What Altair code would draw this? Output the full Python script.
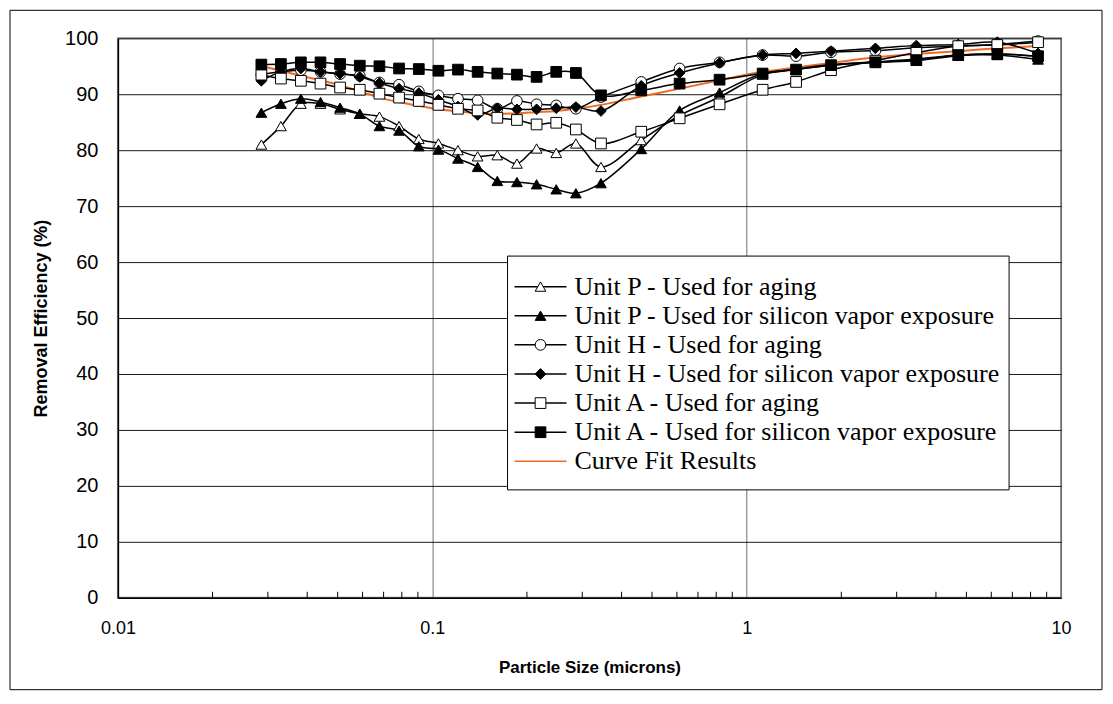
import altair as alt
import pandas as pd

# ---------------- data ----------------
sizes = [0.0286, 0.0330, 0.0382, 0.0441, 0.0509, 0.0588, 0.0679, 0.0784, 0.0906,
         0.1046, 0.1207, 0.1394, 0.1610, 0.1859, 0.2147, 0.2479, 0.2863, 0.344,
         0.462, 0.612, 0.820, 1.124, 1.436, 1.855, 2.568, 3.465, 4.71, 6.27, 8.45]

p_aging = [81.0, 84.3, 88.3, 88.3, 87.3, 86.5, 86.0, 84.3, 82.0, 81.2, 80.0, 78.9, 79.1,
           77.6, 80.3, 79.5, 81.2, 77.0, 81.8, 86.2, 89.5, 93.5, 94.5, 95.3, 95.8, 96.3,
           97.0, 97.2, 96.8]
p_silicon = [86.7, 88.3, 89.2, 88.6, 87.6, 86.5, 84.3, 83.5, 80.7, 80.1, 78.5, 77.0, 74.5,
             74.3, 73.9, 73.0, 72.3, 74.1, 80.2, 87.1, 90.3, 93.7, 94.4, 95.2, 95.7, 96.0,
             96.9, 97.0, 96.2]
h_aging = [93.5, 94.0, 94.3, 94.0, 93.6, 93.3, 92.1, 91.7, 90.5, 89.8, 89.2, 88.9, 87.4,
           88.8, 88.2, 88.0, 87.4, 89.5, 92.2, 94.6, 95.7, 97.0, 96.8, 97.5, 97.8, 98.3,
           98.6, 98.9, 99.5]
h_silicon = [92.4, 94.0, 94.6, 94.0, 93.7, 93.1, 92.0, 91.0, 90.2, 89.0, 87.8, 86.3, 87.5,
             87.3, 87.3, 87.5, 87.7, 87.0, 91.5, 93.8, 95.6, 97.0, 97.3, 97.7, 98.2, 98.7,
             98.9, 99.3, 97.3]
a_aging = [93.5, 92.8, 92.4, 91.9, 91.2, 90.8, 90.1, 89.4, 88.8, 88.1, 87.4, 87.1, 85.8,
           85.4, 84.6, 84.9, 83.7, 81.2, 83.3, 85.7, 88.2, 90.8, 92.2, 94.3, 96.0, 97.4,
           98.6, 98.8, 99.3]
a_silicon = [95.3, 95.4, 95.7, 95.7, 95.4, 95.1, 95.0, 94.6, 94.5, 94.2, 94.4, 94.0, 93.7,
             93.5, 93.1, 94.0, 93.8, 89.8, 90.7, 91.9, 92.6, 93.7, 94.4, 95.2, 95.7, 96.1,
             97.0, 97.2, 96.8]
curve_fit = [95.0, 94.2, 93.3, 92.5, 91.6, 90.5, 89.4, 88.6, 87.9, 87.3, 86.9, 86.6, 86.5,
             86.6, 86.8, 87.0, 87.4, 88.1, 89.6, 91.0, 92.5, 94.0, 94.8, 95.6, 96.6, 97.2,
             97.7, 98.2, 98.6]

series_names = ["Unit P - Used for aging",
                "Unit P - Used for silicon vapor exposure",
                "Unit H - Used for aging",
                "Unit H - Used for silicon vapor exposure",
                "Unit A - Used for aging",
                "Unit A - Used for silicon vapor exposure"]
fit_name = "Curve Fit Results"
series_values = [p_aging, p_silicon, h_aging, h_silicon, a_aging, a_silicon]
series_shapes = ["triangle-up", "triangle-up", "circle", "diamond", "square", "square"]
series_fills = ["white", "black", "white", "black", "white", "black"]

x_ticks = [0.01, 0.1, 1, 10]
minor_ticks = [0.02, 0.03, 0.04, 0.05, 0.06, 0.07, 0.08, 0.09,
               0.2, 0.3, 0.4, 0.5, 0.6, 0.7, 0.8, 0.9,
               2, 3, 4, 5, 6, 7, 8, 9]
y_ticks = [0, 10, 20, 30, 40, 50, 60, 70, 80, 90, 100]

ORANGE = "#F06A24"
W, H = 944, 560
MSIZE = 115

rows = []
for name, vals in zip(series_names, series_values):
    for s, v in zip(sizes, vals):
        rows.append({"series": name, "size": s, "eff": v})
df = pd.DataFrame(rows)
df["order"] = df["series"].map({n: i for i, n in enumerate(series_names)})
fit_df = pd.DataFrame({"size": sizes, "eff": curve_fit})

xscale = alt.Scale(type="log", domain=[0.01, 10])
yscale = alt.Scale(domain=[0, 100])

xenc = alt.X("size:Q", scale=xscale,
             axis=alt.Axis(values=x_ticks, format="~g", title="Particle Size (microns)",
                           grid=True, gridColor="#6f6f6f", gridWidth=1, ticks=False,
                           domainColor="black", domainWidth=1.5,
                           labelFont="Liberation Sans", labelFontSize=18, labelColor="black",
                           labelPadding=22, labelFlush=False,
                           titleFont="Liberation Sans", titleFontSize=17, titleFontWeight="bold",
                           titleColor="black", titleY=70, titleBaseline="middle"))
yenc = alt.Y("eff:Q", scale=yscale,
             axis=alt.Axis(values=y_ticks, title="Removal Efficiency (%)",
                           grid=True, gridColor="#1a1a1a", gridWidth=1, ticks=False,
                           domainColor="black", domainWidth=1.5,
                           labelFont="Liberation Sans", labelFontSize=20, labelColor="black",
                           labelPadding=20,
                           titleFont="Liberation Sans", titleFontSize=18, titleFontWeight="bold",
                           titleColor="black", titleX=-76, titleBaseline="middle"))

shape_scale = alt.Scale(domain=series_names, range=series_shapes)
fill_scale = alt.Scale(domain=series_names, range=series_fills)

fit_line = alt.Chart(fit_df).mark_line(color=ORANGE, strokeWidth=2,
                                        interpolate="catmull-rom").encode(x=xenc, y=yenc)

lines = alt.Chart(df).mark_line(color="black", strokeWidth=1.5,
                                interpolate="catmull-rom").encode(
    x=alt.X("size:Q", scale=xscale), y=alt.Y("eff:Q", scale=yscale),
    detail="series:N", order="size:Q")

points = alt.Chart(df).mark_point(filled=True, stroke="black", strokeWidth=1,
                                  size=MSIZE, opacity=1, fillOpacity=1).encode(
    x=alt.X("size:Q", scale=xscale), y=alt.Y("eff:Q", scale=yscale),
    shape=alt.Shape("series:N", scale=shape_scale, legend=None),
    fill=alt.Fill("series:N", scale=fill_scale, legend=None),
    order="order:Q")

minor = alt.Chart(pd.DataFrame({"v": minor_ticks})).mark_rule(
    color="black", strokeWidth=1).encode(
    x=alt.X("v:Q", scale=xscale), y=alt.value(H), y2=alt.value(H - 6))

main = alt.layer(fit_line, lines, points, minor)

# ---------------- legend (drawn as marks) ----------------
legend_names = series_names + [fit_name]
leg_df = pd.DataFrame({"name": legend_names,
                       "shape": series_shapes + ["circle"],
                       "fill": series_fills + ["white"]})
leg_y = alt.Y("name:N", sort=legend_names,
              scale=alt.Scale(type="point", domain=legend_names, range=[234, 438]),
              axis=None)

box = alt.Chart(pd.DataFrame({"a": [0]})).mark_rect(
    fill="white", stroke="black", strokeWidth=1).encode(
    x=alt.value(390), x2=alt.value(892), y=alt.value(218), y2=alt.value(452))
leg_lines = alt.Chart(leg_df).mark_rule(strokeWidth=1.5).encode(
    x=alt.value(397), x2=alt.value(449), y=leg_y,
    color=alt.Color("name:N", scale=alt.Scale(domain=legend_names,
                                              range=["black"] * 6 + [ORANGE]), legend=None))
leg_pts = alt.Chart(leg_df[leg_df["name"] != fit_name]).mark_point(
    filled=True, stroke="black", strokeWidth=1, size=MSIZE, opacity=1, fillOpacity=1).encode(
    x=alt.value(423), y=leg_y,
    shape=alt.Shape("name:N", scale=shape_scale, legend=None),
    fill=alt.Fill("name:N", scale=fill_scale, legend=None))
leg_text = alt.Chart(leg_df).mark_text(
    align="left", baseline="middle", font="Liberation Serif", fontSize=26,
    color="black").encode(x=alt.value(457), y=leg_y, text="name:N")
legend = alt.layer(box, leg_lines, leg_pts, leg_text)

border = alt.Chart(pd.DataFrame({"a": [0]})).mark_rect(
    fill=None, fillOpacity=0, stroke="black", strokeWidth=1).encode(
    x=alt.value(-108), x2=alt.value(985), y=alt.value(-28), y2=alt.value(652))

chart = alt.layer(border, main, legend).resolve_scale(
    y="independent", shape="independent", fill="independent", color="independent"
).properties(
    width=W, height=H,
    autosize=alt.AutoSizeParams(type="none"),
    padding={"left": 110, "top": 30, "right": 44, "bottom": 94},
    background="white",
).configure_view(stroke="#8c8c8c", strokeWidth=2)

chart.save("out.html", embed_options={"renderer": "svg", "actions": False})
